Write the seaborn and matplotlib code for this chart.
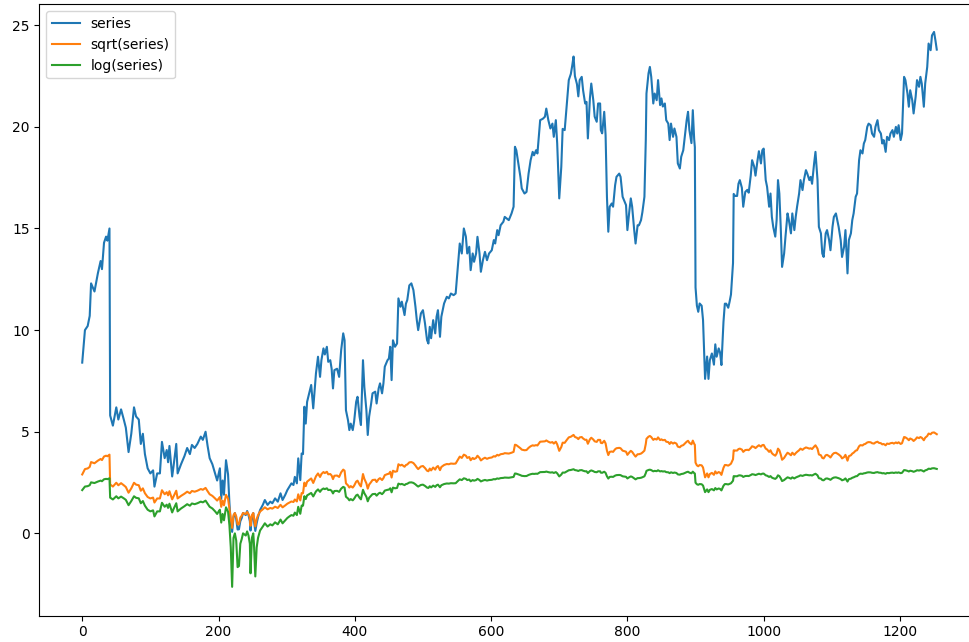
import numpy as np
import pandas as pd
import matplotlib
matplotlib.use("Agg")
import matplotlib.pyplot as plt
import seaborn as sns

# Trading-day index of each observation
day = [
    0, 4, 8, 11, 13, 18, 23, 27, 29, 32, 35, 37, 40, 41, 45, 50, 53, 57, 61, 64,
    68, 72, 76, 79, 83, 86, 89, 92, 96, 100, 104, 106, 110, 114, 117, 121, 124, 126, 128, 132,
    134, 138, 140, 145, 150, 154, 158, 161, 165, 169, 174, 177, 181, 184, 187, 191, 195, 198, 200, 202,
    204, 206, 208, 211, 214, 216, 218, 220, 222, 224, 226, 228, 230, 232, 234, 236, 238, 240, 242, 244,
    246, 247, 249, 251, 252, 254, 256, 258, 261, 265, 268, 272, 276, 279, 283, 287, 291, 294, 298, 301,
    304, 307, 310, 312, 315, 317, 320, 322, 324, 326, 328, 330, 333, 336, 339, 343, 346, 349, 351, 354,
    356, 359, 361, 364, 366, 368, 370, 374, 377, 380, 383, 385, 387, 390, 392, 394, 397, 399, 402, 404,
    407, 409, 412, 414, 417, 419, 421, 424, 426, 430, 432, 435, 437, 440, 442, 444, 448, 450, 452, 454,
    456, 459, 462, 464, 467, 469, 473, 475, 477, 480, 483, 486, 489, 491, 493, 497, 500, 503, 506, 508,
    510, 512, 515, 518, 520, 522, 525, 527, 531, 535, 538, 541, 545, 548, 551, 554, 557, 560, 563, 565,
    568, 570, 573, 575, 578, 580, 583, 585, 588, 591, 594, 597, 601, 604, 606, 609, 611, 614, 618, 620,
    623, 626, 630, 633, 635, 637, 640, 643, 645, 649, 652, 655, 658, 661, 663, 666, 668, 672, 676, 679,
    681, 684, 687, 690, 692, 695, 697, 700, 703, 705, 708, 711, 714, 717, 719, 721, 723, 726, 728, 730,
    733, 735, 738, 740, 742, 745, 747, 750, 752, 755, 757, 760, 761, 763, 766, 768, 770, 772, 774, 777,
    779, 782, 784, 788, 790, 793, 795, 798, 800, 803, 805, 807, 810, 812, 815, 817, 820, 822, 825, 827,
    828, 831, 833, 835, 838, 840, 843, 845, 848, 850, 852, 855, 857, 860, 862, 864, 867, 869, 872, 874,
    877, 879, 882, 884, 887, 889, 891, 894, 896, 898, 899, 900, 902, 904, 906, 909, 911, 913, 914, 917,
    919, 921, 924, 927, 929, 931, 934, 936, 938, 941, 943, 945, 948, 950, 952, 955, 956, 958, 961, 963,
    965, 968, 970, 973, 976, 978, 981, 983, 986, 988, 991, 993, 996, 998, 1000, 1003, 1005, 1008, 1010, 1012,
    1014, 1017, 1019, 1021, 1023, 1025, 1027, 1030, 1032, 1035, 1037, 1040, 1042, 1045, 1047, 1049, 1052, 1054, 1057, 1059,
    1062, 1064, 1067, 1069, 1071, 1074, 1076, 1079, 1081, 1084, 1086, 1088, 1091, 1093, 1096, 1098, 1101, 1103, 1106, 1108,
    1110, 1113, 1115, 1118, 1120, 1123, 1125, 1128, 1130, 1132, 1135, 1137, 1140, 1142, 1145, 1147, 1149, 1152, 1154, 1157,
    1159, 1162, 1164, 1167, 1169, 1172, 1174, 1176, 1179, 1181, 1184, 1186, 1189, 1191, 1194, 1196, 1198, 1201, 1203, 1206,
    1208, 1211, 1213, 1215, 1218, 1220, 1223, 1225, 1228, 1230, 1232, 1235, 1237, 1240, 1242, 1245, 1247, 1250, 1252, 1254,
]

# Observed value of the series on each of those days
series = [
    8.40, 10.00, 10.20, 10.70, 12.30, 11.90, 12.80, 13.40, 13.00, 14.30, 14.60, 14.40, 15.00, 5.80, 5.30, 6.20, 5.60, 6.10, 5.60, 5.20,
    4.00, 4.90, 6.20, 5.75, 5.60, 4.40, 4.90, 3.90, 3.20, 2.95, 3.10, 2.30, 2.95, 2.95, 4.50, 3.70, 4.10, 3.50, 4.30, 2.80,
    3.30, 4.40, 2.95, 3.40, 3.80, 4.20, 3.90, 4.35, 4.20, 4.40, 4.76, 4.60, 5.00, 4.30, 3.70, 3.40, 2.95, 2.60, 2.90, 3.20,
    1.70, 2.60, 1.90, 3.60, 2.90, 1.50, 0.50, 0.072, 0.80, 1.00, 0.70, 0.19, 0.20, 0.60, 0.75, 1.00, 0.95, 0.90, 1.10, 0.90,
    0.60, 0.14, 0.80, 1.00, 0.60, 0.12, 0.50, 0.80, 1.15, 1.40, 1.64, 1.40, 1.56, 1.48, 1.72, 1.56, 1.97, 1.64, 1.90, 2.13,
    2.30, 2.46, 2.38, 2.78, 2.46, 3.69, 2.62, 3.93, 3.90, 6.23, 5.40, 6.47, 6.89, 7.30, 6.15, 7.87, 8.69, 7.70, 8.52, 9.10,
    8.80, 9.18, 8.44, 8.52, 8.10, 7.13, 8.03, 8.10, 7.70, 9.02, 9.84, 9.50, 6.06, 5.57, 5.08, 5.40, 5.08, 5.50, 6.47, 6.72,
    5.74, 5.33, 8.52, 7.20, 6.06, 4.84, 5.74, 6.39, 6.89, 6.97, 6.39, 7.13, 7.38, 6.89, 7.38, 8.20, 8.52, 8.60, 9.18, 7.54,
    9.50, 9.18, 9.34, 11.56, 11.15, 11.40, 10.74, 11.30, 11.48, 12.20, 12.30, 11.97, 11.15, 10.49, 10.00, 10.82, 10.98, 10.33, 9.51, 9.34,
    10.16, 9.60, 10.49, 9.84, 10.66, 10.98, 9.67, 10.66, 11.31, 11.64, 11.56, 11.80, 11.72, 11.80, 13.03, 14.26, 13.77, 15.00, 14.60, 13.77,
    14.10, 12.95, 13.77, 13.36, 13.77, 14.59, 13.77, 12.87, 13.44, 13.85, 13.44, 13.77, 13.93, 14.43, 14.26, 14.92, 14.67, 15.16, 15.33, 15.57,
    15.49, 15.41, 15.74, 16.07, 19.02, 18.85, 18.20, 17.54, 16.97, 16.72, 16.80, 17.70, 18.36, 18.77, 18.60, 18.85, 18.69, 20.33, 20.40, 20.50,
    20.90, 20.33, 19.92, 20.16, 19.51, 20.33, 19.18, 16.48, 18.03, 19.90, 19.84, 21.10, 22.30, 22.60, 23.00, 23.46, 22.50, 22.10, 21.50, 22.30,
    22.46, 21.80, 21.15, 21.23, 19.43, 21.40, 22.13, 21.30, 20.50, 20.25, 21.15, 21.15, 19.84, 19.68, 20.74, 19.60, 16.56, 14.84, 16.07, 16.23,
    16.07, 17.13, 17.54, 17.70, 17.54, 16.56, 16.40, 16.15, 14.92, 15.90, 16.48, 16.07, 14.92, 14.26, 15.16, 15.16, 15.41, 15.80, 16.56, 19.35,
    21.64, 22.63, 22.95, 22.46, 21.15, 21.64, 21.31, 22.30, 21.07, 21.40, 21.00, 21.15, 20.33, 20.16, 19.35, 20.16, 19.51, 19.92, 19.51, 18.20,
    17.95, 18.53, 18.85, 19.43, 20.33, 20.74, 19.84, 19.20, 20.82, 19.40, 19.00, 12.10, 11.20, 10.90, 11.31, 11.20, 10.50, 8.50, 7.60, 8.70,
    7.60, 8.52, 8.85, 8.30, 9.30, 8.69, 9.10, 8.90, 8.28, 10.40, 11.30, 11.30, 11.10, 11.40, 11.75, 13.30, 16.70, 16.60, 16.60, 17.20,
    17.38, 17.00, 16.07, 16.80, 16.90, 16.76, 17.60, 18.36, 18.05, 17.60, 18.36, 18.80, 18.20, 18.85, 18.93, 17.38, 17.05, 16.07, 16.72, 15.57,
    15.08, 14.60, 15.41, 17.38, 16.72, 15.08, 13.11, 13.77, 14.60, 15.74, 15.41, 14.76, 15.74, 14.92, 15.57, 16.07, 16.72, 17.38, 16.89, 17.38,
    17.87, 17.70, 17.38, 17.54, 17.20, 18.20, 18.77, 17.38, 15.08, 14.76, 13.77, 13.60, 14.76, 14.92, 14.43, 13.93, 15.08, 15.57, 15.74, 15.41,
    15.08, 14.43, 13.60, 14.10, 14.92, 12.79, 14.43, 14.76, 15.41, 15.74, 16.56, 16.72, 18.36, 18.85, 18.69, 19.18, 19.35, 20.00, 20.16, 20.08,
    19.67, 19.51, 20.00, 20.33, 19.84, 19.67, 19.18, 19.35, 18.77, 19.51, 19.35, 19.67, 19.84, 19.51, 20.00, 19.67, 20.08, 19.35, 19.67, 22.46,
    22.30, 21.64, 20.99, 21.80, 21.31, 20.66, 21.48, 22.30, 21.97, 22.46, 22.13, 20.99, 22.13, 22.95, 24.10, 23.77, 24.50, 24.67, 24.26, 23.80,
]

labels = ["series", "sqrt(series)", "log(series)"]

values = np.asarray(series, dtype=float)
df = pd.DataFrame({
    "day": day,
    labels[0]: values,
    labels[1]: np.sqrt(values),
    labels[2]: np.log(values),
})
long_df = df.melt(id_vars="day", var_name="name", value_name="value")

fig = plt.figure(figsize=(9.7, 6.42), dpi=100)
# axes run slightly past the right edge of the canvas
ax = fig.add_axes([0.0405, 0.041, 0.9688, 0.952])

sns.lineplot(
    data=long_df, x="day", y="value", hue="name", hue_order=labels,
    palette=["#1f77b4", "#ff7f0e", "#2ca02c"], linewidth=1.5,
    estimator=None, sort=True, ax=ax,
)

ax.set_xlim(-63, 1316)
ax.set_ylim(-4.05, 26.02)
ax.set_xticks([0, 200, 400, 600, 800, 1000, 1200])
ax.set_yticks([0, 5, 10, 15, 20, 25])
ax.set_xlabel("")
ax.set_ylabel("")
ax.spines["right"].set_visible(False)

handles, lbls = ax.get_legend_handles_labels()
ax.legend(handles, lbls, loc="upper left")

fig.savefig("out.png", dpi=100)
